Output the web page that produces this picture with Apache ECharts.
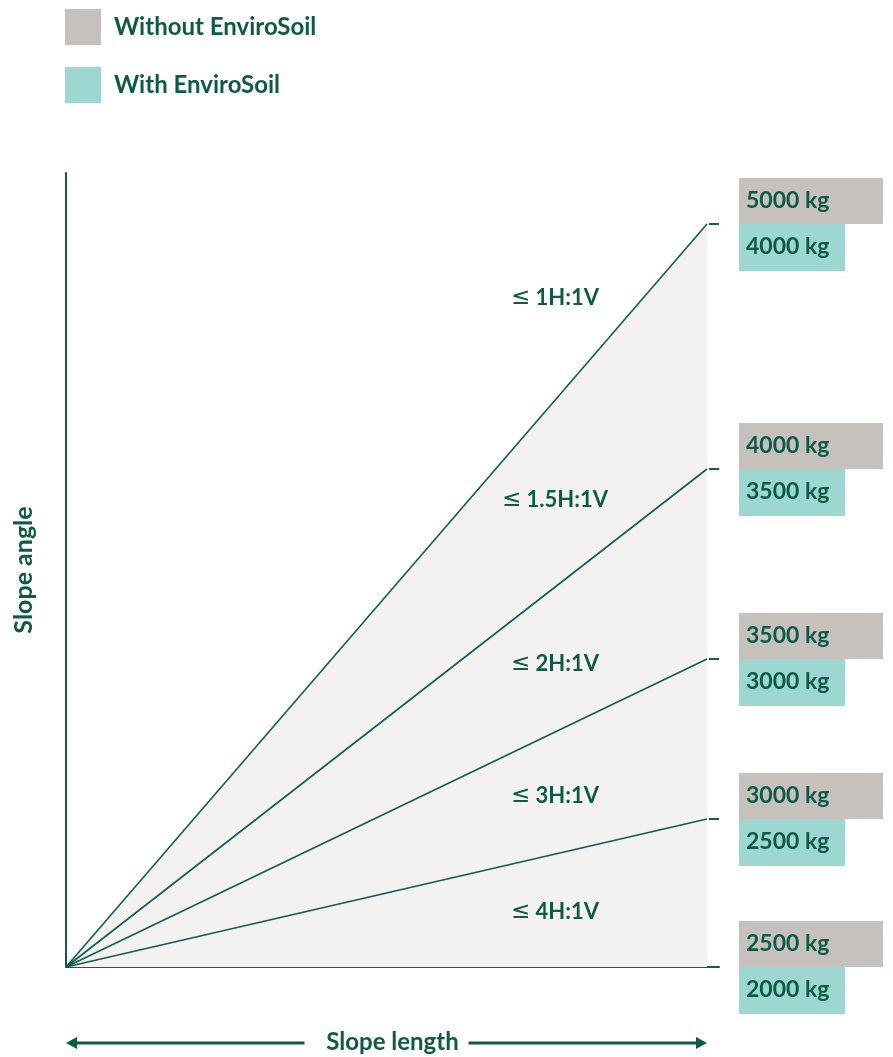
<!DOCTYPE html>
<html>
<head>
<meta charset="utf-8">
<script src="https://cdn.jsdelivr.net/npm/echarts@6/dist/echarts.min.js"></script>
<style>
html,body{margin:0;padding:0;background:#fff;}
#chart{width:893px;height:1057px;}
</style>
</head>
<body>
<div id="chart"></div>
<script>
// ---- data ----
const slopeLabels = ['1H:1V', '1.5H:1V', '2H:1V', '3H:1V', '4H:1V'];   // each shown as "≤ ..."
const slopeRise = [743, 498, 308, 148, 0];      // rise reached at the end of the run
const slopeRun = 641;                            // run of every slope line
const withoutKg = [5000, 4000, 3500, 3000, 2500];
const withKg = [4000, 3500, 3000, 2500, 2000];
const legendNames = ['Without EnviroSoil', 'With EnviroSoil'];

// ---- layout / style ----
const labelAnchor = [[489, 669], [489, 467], [489, 303], [489, 171], [489, 55]];
const TEXT = '#0d5a45';
const LINE = '#135c52';
const GREY = '#c6c1bd';
const TEAL = '#9dd7d1';
const SHADE = '#f3f2f0';
const FONT = 'Lato';
const WEIGHT = 'bold';
const X_MAX = 653, Y_MAX = 794;

const chart = echarts.init(document.getElementById('chart'), null, {renderer: 'canvas'});

const series = [];
// shaded area under the steepest line
series.push({
  type: 'line', data: [[0, 0], [slopeRun, slopeRise[0]]],
  symbol: 'none', silent: true, z: 1,
  lineStyle: {width: 0}, areaStyle: {color: SHADE, opacity: 1}
});
// slope lines
slopeRise.forEach((r, i) => {
  if (r === 0) return;
  series.push({
    type: 'line', data: [[0, 0], [slopeRun, r]], symbol: 'none', silent: true, z: 3,
    lineStyle: {color: LINE, width: 1.6}
  });
});
// slope labels
series.push({
  type: 'scatter', symbolSize: 0, silent: true, z: 4,
  itemStyle: {opacity: 1},
  data: labelAnchor.map((p, i) => ({value: p, name: slopeLabels[i]})),
  label: {show: true, position: 'inside', formatter: p => '{s|≤} ' + p.name,
    color: TEXT, fontFamily: FONT, fontWeight: WEIGHT, fontSize: 22,
    rich: {s: {fontFamily: 'DejaVu Sans', fontWeight: 'normal', fontSize: 23, color: TEXT}}}
});
// ticks and value boxes
series.push({
  type: 'custom', silent: true, clip: false, z: 5,
  data: slopeRise.map((r, i) => [r, withoutKg[i], withKg[i]]),
  renderItem: function (params, api) {
    const end = api.coord([slopeRun, api.value(0)]);
    const edge = api.coord([X_MAX, api.value(0)]);
    const bx = edge[0] + 20, y = end[1], h = 46;
    return {type: 'group', children: [
      {type: 'line', shape: {x1: end[0] + 2, y1: y, x2: edge[0], y2: y},
        style: {stroke: LINE, lineWidth: 2}},
      {type: 'rect', shape: {x: bx, y: y - h, width: 144, height: h}, style: {fill: GREY}},
      {type: 'rect', shape: {x: bx, y: y, width: 106, height: h + 1}, style: {fill: TEAL}},
      {type: 'text', style: {x: bx + 7, y: y - h / 2, text: api.value(1) + ' kg',
        fill: TEXT, font: WEIGHT + ' 23px ' + FONT, verticalAlign: 'middle', align: 'left'}},
      {type: 'text', style: {x: bx + 7, y: y + h / 2, text: api.value(2) + ' kg',
        fill: TEXT, font: WEIGHT + ' 23px ' + FONT, verticalAlign: 'middle', align: 'left'}}
    ]};
  }
});
// legend-only series
series.push({type: 'bar', name: legendNames[0], data: [], itemStyle: {color: GREY}});
series.push({type: 'bar', name: legendNames[1], data: [], itemStyle: {color: TEAL}});

chart.setOption({
  animation: false,
  legend: {
    orient: 'vertical', left: 65, top: 9, padding: 0, itemWidth: 36, itemHeight: 36, itemGap: 22,
    icon: 'rect', selectedMode: false, data: legendNames,
    textStyle: {color: TEXT, fontFamily: FONT, fontWeight: WEIGHT, fontSize: 24, padding: [0, 0, 0, 8]}
  },
  grid: {left: 66, top: 173, width: X_MAX, height: Y_MAX, outerBoundsMode: 'none', containLabel: false},
  xAxis: {
    type: 'value', min: 0, max: X_MAX,
    axisLine: {show: true, lineStyle: {color: LINE, width: 2}},
    axisTick: {show: false}, axisLabel: {show: false}, splitLine: {show: false},
    name: 'Slope length', nameLocation: 'middle', nameGap: 63,
    nameTextStyle: {color: TEXT, fontFamily: FONT, fontWeight: WEIGHT, fontSize: 24}
  },
  yAxis: {
    type: 'value', min: 0, max: Y_MAX,
    axisLine: {show: true, lineStyle: {color: LINE, width: 2}},
    axisTick: {show: false}, axisLabel: {show: false}, splitLine: {show: false},
    name: 'Slope angle', nameLocation: 'middle', nameGap: 30, nameRotate: 90,
    nameTextStyle: {color: TEXT, fontFamily: FONT, fontWeight: WEIGHT, fontSize: 25}
  },
  series: series
});

// arrow under the x axis
const p0 = chart.convertToPixel({gridIndex: 0}, [0, 0]);
const p1 = chart.convertToPixel({gridIndex: 0}, [slopeRun, 0]);
const ay = p0[1] + 76, mid = (p0[0] + p1[0]) / 2, gap = 82;
chart.setOption({graphic: [
  {type: 'line', shape: {x1: p0[0] + 6, y1: ay, x2: mid - gap, y2: ay}, style: {stroke: TEXT, lineWidth: 3}},
  {type: 'line', shape: {x1: mid + gap, y1: ay, x2: p1[0] - 6, y2: ay}, style: {stroke: TEXT, lineWidth: 3}},
  {type: 'polygon', shape: {points: [[p0[0], ay], [p0[0] + 11, ay - 6], [p0[0] + 11, ay + 6]]}, style: {fill: TEXT}},
  {type: 'polygon', shape: {points: [[p1[0], ay], [p1[0] - 11, ay - 6], [p1[0] - 11, ay + 6]]}, style: {fill: TEXT}}
]});
</script>
</body>
</html>
